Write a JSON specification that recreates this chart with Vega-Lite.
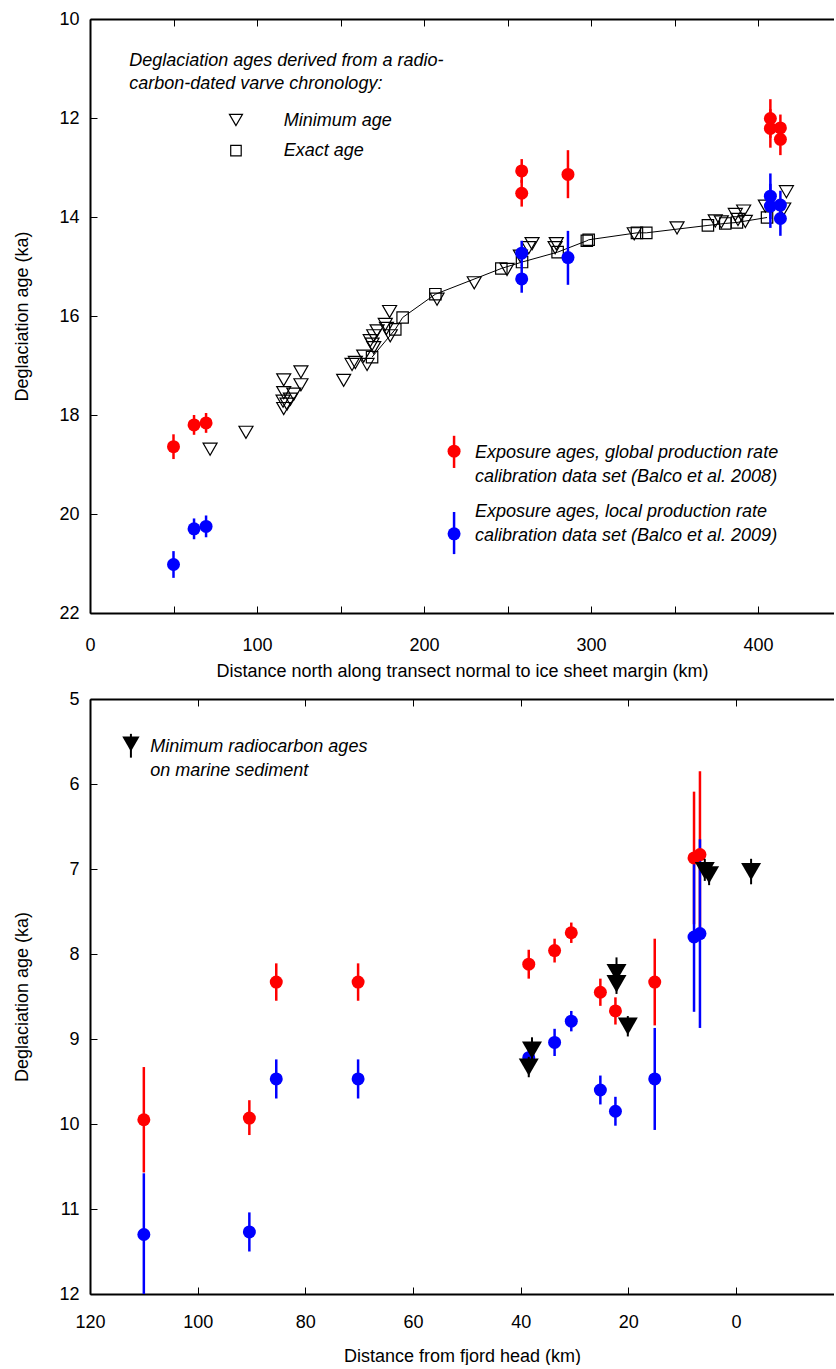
{
  "$schema": "https://vega.github.io/schema/vega-lite/v6.json",
  "padding": {"left": 13, "top": 10, "right": 0, "bottom": 0},
  "spacing": 10,
  "config": {
    "font": "Liberation Sans",
    "view": {"stroke": null},
    "axis": {
      "labelFont": "Liberation Sans", "labelFontSize": 18, "labelColor": "#000", "labelFlush": false,
      "titleFont": "Liberation Sans", "titleFontSize": 18, "titleFontWeight": "normal", "titleColor": "#000",
      "domainColor": "#000", "domainWidth": 2, "tickColor": "#000", "tickWidth": 1, "tickSize": -7,
      "grid": false
    }
  },
  "datasets": {
    "topExact": [
      {"km": 168.9, "age": 16.83}, {"km": 182.8, "age": 16.27}, {"km": 187.2, "age": 16.03},
      {"km": 206.8, "age": 15.56}, {"km": 246.3, "age": 15.04}, {"km": 258.7, "age": 14.91},
      {"km": 280.0, "age": 14.71}, {"km": 297.5, "age": 14.48}, {"km": 298.6, "age": 14.46},
      {"km": 327.5, "age": 14.32}, {"km": 333.1, "age": 14.32}, {"km": 370.0, "age": 14.17},
      {"km": 380.4, "age": 14.13}, {"km": 387.4, "age": 14.11}, {"km": 405.4, "age": 14.01}
    ],
    "topMin": [
      {"km": 71.9, "age": 18.69}, {"km": 93.4, "age": 18.35}, {"km": 116.0, "age": 17.29},
      {"km": 126.3, "age": 17.13}, {"km": 116.0, "age": 17.55}, {"km": 126.3, "age": 17.39},
      {"km": 115.6, "age": 17.72}, {"km": 122.0, "age": 17.58}, {"km": 116.0, "age": 17.87},
      {"km": 120.0, "age": 17.68}, {"km": 118.0, "age": 17.78}, {"km": 151.9, "age": 17.30},
      {"km": 156.9, "age": 16.98}, {"km": 158.9, "age": 16.94}, {"km": 163.9, "age": 16.81},
      {"km": 165.9, "age": 16.98}, {"km": 167.8, "age": 16.50}, {"km": 168.9, "age": 16.57},
      {"km": 169.9, "age": 16.64}, {"km": 169.9, "age": 16.40}, {"km": 171.9, "age": 16.30},
      {"km": 176.8, "age": 16.17}, {"km": 179.4, "age": 15.91}, {"km": 179.8, "age": 16.40},
      {"km": 177.5, "age": 16.25}, {"km": 207.8, "age": 15.66}, {"km": 230.1, "age": 15.33},
      {"km": 249.7, "age": 15.06}, {"km": 257.7, "age": 14.79}, {"km": 262.7, "age": 14.62},
      {"km": 264.7, "age": 14.54}, {"km": 279.2, "age": 14.54}, {"km": 278.5, "age": 14.62},
      {"km": 325.9, "age": 14.34}, {"km": 351.5, "age": 14.22}, {"km": 374.4, "age": 14.08},
      {"km": 378.0, "age": 14.10}, {"km": 386.4, "age": 13.95}, {"km": 391.4, "age": 13.88},
      {"km": 392.4, "age": 14.09}, {"km": 388.0, "age": 14.05}, {"km": 404.4, "age": 13.78},
      {"km": 415.4, "age": 13.84}, {"km": 417.0, "age": 13.49}
    ],
    "topExp": [
      {"km": 50.0, "age": 18.64, "lo": 18.39, "hi": 18.89, "set": "global"},
      {"km": 62.3, "age": 18.20, "lo": 18.0, "hi": 18.4, "set": "global"},
      {"km": 69.5, "age": 18.16, "lo": 17.96, "hi": 18.36, "set": "global"},
      {"km": 258.5, "age": 13.07, "lo": 12.83, "hi": 13.31, "set": "global"},
      {"km": 258.5, "age": 13.52, "lo": 13.25, "hi": 13.79, "set": "global"},
      {"km": 286.2, "age": 13.14, "lo": 12.65, "hi": 13.62, "set": "global"},
      {"km": 407.4, "age": 12.01, "lo": 11.62, "hi": 12.4, "set": "global"},
      {"km": 407.4, "age": 12.21, "lo": 11.82, "hi": 12.6, "set": "global"},
      {"km": 413.4, "age": 12.20, "lo": 11.93, "hi": 12.47, "set": "global"},
      {"km": 413.4, "age": 12.43, "lo": 12.11, "hi": 12.75, "set": "global"},
      {"km": 50.0, "age": 21.02, "lo": 20.75, "hi": 21.29, "set": "local"},
      {"km": 62.3, "age": 20.30, "lo": 20.09, "hi": 20.51, "set": "local"},
      {"km": 69.5, "age": 20.25, "lo": 20.03, "hi": 20.47, "set": "local"},
      {"km": 258.5, "age": 14.73, "lo": 14.48, "hi": 14.98, "set": "local"},
      {"km": 258.5, "age": 15.25, "lo": 14.97, "hi": 15.53, "set": "local"},
      {"km": 286.2, "age": 14.82, "lo": 14.28, "hi": 15.37, "set": "local"},
      {"km": 407.4, "age": 13.58, "lo": 13.12, "hi": 14.04, "set": "local"},
      {"km": 407.4, "age": 13.78, "lo": 13.33, "hi": 14.22, "set": "local"},
      {"km": 413.4, "age": 13.76, "lo": 13.47, "hi": 14.06, "set": "local"},
      {"km": 413.4, "age": 14.03, "lo": 13.73, "hi": 14.38, "set": "local"}
    ],
    "topLegExp": [
      {"km": 218.0, "age": 18.73, "lo": 18.42, "hi": 19.07, "set": "global"},
      {"km": 218.0, "age": 20.40, "lo": 19.96, "hi": 20.81, "set": "local"}
    ],
    "topLegMin": [{"km": 87.4, "age": 12.04}],
    "topLegExact": [{"km": 87.4, "age": 12.66}],
    "topText": [
      {"km": 23.5, "age": 10.85, "label": "Deglaciation ages derived from a radio-"},
      {"km": 23.5, "age": 11.32, "label": "carbon-dated varve chronology:"},
      {"km": 116.0, "age": 12.06, "label": "Minimum age"},
      {"km": 116.0, "age": 12.66, "label": "Exact age"},
      {"km": 230.5, "age": 18.77, "label": "Exposure ages, global production rate"},
      {"km": 230.5, "age": 19.25, "label": "calibration data set (Balco et al. 2008)"},
      {"km": 230.5, "age": 19.96, "label": "Exposure ages, local production rate"},
      {"km": 230.5, "age": 20.44, "label": "calibration data set (Balco et al. 2009)"}
    ],
    "botExp": [
      {"km": 110.0, "age": 9.95, "lo": 9.33, "hi": 10.57, "set": "global"},
      {"km": 90.4, "age": 9.93, "lo": 9.72, "hi": 10.13, "set": "global"},
      {"km": 85.4, "age": 8.33, "lo": 8.11, "hi": 8.55, "set": "global"},
      {"km": 70.2, "age": 8.33, "lo": 8.11, "hi": 8.55, "set": "global"},
      {"km": 38.5, "age": 8.12, "lo": 7.95, "hi": 8.29, "set": "global"},
      {"km": 33.7, "age": 7.96, "lo": 7.82, "hi": 8.10, "set": "global"},
      {"km": 30.6, "age": 7.75, "lo": 7.63, "hi": 7.87, "set": "global"},
      {"km": 25.2, "age": 8.45, "lo": 8.29, "hi": 8.61, "set": "global"},
      {"km": 22.4, "age": 8.67, "lo": 8.51, "hi": 8.83, "set": "global"},
      {"km": 15.1, "age": 8.33, "lo": 7.82, "hi": 8.84, "set": "global"},
      {"km": 7.8, "age": 6.87, "lo": 6.09, "hi": 7.65, "set": "global"},
      {"km": 6.7, "age": 6.83, "lo": 5.85, "hi": 7.81, "set": "global"},
      {"km": 110.0, "age": 11.30, "lo": 10.58, "hi": 12.02, "set": "local"},
      {"km": 90.4, "age": 11.27, "lo": 11.04, "hi": 11.50, "set": "local"},
      {"km": 85.4, "age": 9.47, "lo": 9.24, "hi": 9.70, "set": "local"},
      {"km": 70.2, "age": 9.47, "lo": 9.24, "hi": 9.70, "set": "local"},
      {"km": 38.5, "age": 9.22, "lo": 9.07, "hi": 9.37, "set": "local"},
      {"km": 33.7, "age": 9.04, "lo": 8.88, "hi": 9.20, "set": "local"},
      {"km": 30.6, "age": 8.79, "lo": 8.67, "hi": 8.91, "set": "local"},
      {"km": 25.2, "age": 9.60, "lo": 9.43, "hi": 9.77, "set": "local"},
      {"km": 22.4, "age": 9.85, "lo": 9.68, "hi": 10.02, "set": "local"},
      {"km": 15.1, "age": 9.47, "lo": 8.87, "hi": 10.07, "set": "local"},
      {"km": 7.8, "age": 7.80, "lo": 6.92, "hi": 8.68, "set": "local"},
      {"km": 6.7, "age": 7.76, "lo": 6.65, "hi": 8.87, "set": "local"}
    ],
    "botRc": [
      {"km": -2.8, "age": 7.03, "lo": 6.88, "hi": 7.18},
      {"km": 5.8, "age": 7.02, "lo": 6.88, "hi": 7.14},
      {"km": 5.0, "age": 7.07, "lo": 6.95, "hi": 7.19},
      {"km": 22.2, "age": 8.22, "lo": 8.04, "hi": 8.36},
      {"km": 22.2, "age": 8.35, "lo": 8.23, "hi": 8.47},
      {"km": 20.1, "age": 8.85, "lo": 8.73, "hi": 8.97},
      {"km": 37.9, "age": 9.13, "lo": 8.98, "hi": 9.28},
      {"km": 38.5, "age": 9.33, "lo": 9.21, "hi": 9.45}
    ],
    "botLegRc": [{"km": 112.4, "age": 5.53, "lo": 5.41, "hi": 5.69}],
    "botText": [
      {"km": 108.8, "age": 5.57, "label": "Minimum radiocarbon ages"},
      {"km": 108.8, "age": 5.85, "label": "on marine sediment"}
    ]
  },
  "vconcat": [
    {
      "width": 744,
      "height": 594,
      "resolve": {"axis": {"x": "independent"}},
      "layer": [
        {
          "data": {"name": "topExact"},
          "mark": {"type": "line", "color": "#000", "strokeWidth": 1},
          "encoding": {
            "x": {"field": "km", "type": "quantitative",
                  "scale": {"domain": [0, 445.5], "nice": false, "zero": false},
                  "axis": {"orient": "bottom", "values": [0, 50, 100, 150, 200, 250, 300, 350, 400],
                           "labelExpr": "datum.value % 100 == 0 ? datum.label : ''",
                           "title": "Distance north along transect normal to ice sheet margin (km)",
                           "labelPadding": 30, "titlePadding": 8}},
            "y": {"field": "age", "type": "quantitative",
                  "scale": {"domain": [10, 22], "reverse": true, "nice": false, "zero": false},
                  "axis": {"values": [10, 12, 14, 16, 18, 20, 22], "format": "d", "title": "Deglaciation age (ka)",
                           "labelPadding": 18, "titlePadding": 27}}
          }
        },
        {
          "data": {"name": "topExact"},
          "mark": {"type": "point", "shape": "square", "filled": false, "stroke": "#000", "strokeWidth": 1.2, "size": 130, "opacity": 1},
          "encoding": {
            "x": {"field": "km", "type": "quantitative",
                  "axis": {"orient": "top", "values": [0, 50, 100, 150, 200, 250, 300, 350, 400], "labels": false, "title": null}},
            "y": {"field": "age", "type": "quantitative"}
          }
        },
        {
          "data": {"name": "topMin"},
          "mark": {"type": "point", "shape": "triangle-down", "filled": false, "stroke": "#000", "strokeWidth": 1.2, "size": 196, "opacity": 1},
          "encoding": {
            "x": {"field": "km", "type": "quantitative", "axis": null},
            "y": {"field": "age", "type": "quantitative"}
          }
        },
        {
          "data": {"name": "topLegMin"},
          "mark": {"type": "point", "shape": "triangle-down", "filled": false, "stroke": "#000", "strokeWidth": 1.2, "size": 170, "opacity": 1},
          "encoding": {
            "x": {"field": "km", "type": "quantitative", "axis": null},
            "y": {"field": "age", "type": "quantitative"}
          }
        },
        {
          "data": {"name": "topLegExact"},
          "mark": {"type": "point", "shape": "square", "filled": false, "stroke": "#000", "strokeWidth": 1.2, "size": 110, "opacity": 1},
          "encoding": {
            "x": {"field": "km", "type": "quantitative", "axis": null},
            "y": {"field": "age", "type": "quantitative"}
          }
        },
        {
          "data": {"name": "topExp"},
          "mark": {"type": "rule", "strokeWidth": 2.5},
          "encoding": {
            "x": {"field": "km", "type": "quantitative", "axis": null},
            "y": {"field": "lo", "type": "quantitative"},
            "y2": {"field": "hi"},
            "color": {"field": "set", "type": "nominal", "scale": {"domain": ["global", "local"], "range": ["#ff0000", "#0000ff"]}, "legend": null}
          }
        },
        {
          "data": {"name": "topExp"},
          "mark": {"type": "point", "shape": "circle", "filled": true, "size": 169, "opacity": 1},
          "encoding": {
            "x": {"field": "km", "type": "quantitative", "axis": null},
            "y": {"field": "age", "type": "quantitative"},
            "color": {"field": "set", "type": "nominal", "legend": null}
          }
        },
        {
          "data": {"name": "topLegExp"},
          "mark": {"type": "rule", "strokeWidth": 2.5},
          "encoding": {
            "x": {"field": "km", "type": "quantitative", "axis": null},
            "y": {"field": "lo", "type": "quantitative"},
            "y2": {"field": "hi"},
            "color": {"field": "set", "type": "nominal", "legend": null}
          }
        },
        {
          "data": {"name": "topLegExp"},
          "mark": {"type": "point", "shape": "circle", "filled": true, "size": 169, "opacity": 1},
          "encoding": {
            "x": {"field": "km", "type": "quantitative", "axis": null},
            "y": {"field": "age", "type": "quantitative"},
            "color": {"field": "set", "type": "nominal", "legend": null}
          }
        },
        {
          "data": {"name": "topText"},
          "mark": {"type": "text", "align": "left", "baseline": "middle", "fontSize": 18, "fontStyle": "italic", "font": "Liberation Sans", "color": "#000"},
          "encoding": {
            "x": {"field": "km", "type": "quantitative", "axis": null},
            "y": {"field": "age", "type": "quantitative"},
            "text": {"field": "label"}
          }
        }
      ]
    },
    {
      "width": 744,
      "height": 595,
      "resolve": {"axis": {"x": "independent"}},
      "layer": [
        {
          "data": {"name": "botExp"},
          "mark": {"type": "rule", "strokeWidth": 2.5, "clip": true},
          "encoding": {
            "x": {"field": "km", "type": "quantitative",
                  "scale": {"domain": [-18.2, 120], "reverse": true, "nice": false, "zero": false},
                  "axis": {"orient": "bottom", "values": [120, 100, 80, 60, 40, 20, 0],
                           "title": "Distance from fjord head (km)", "labelPadding": 26, "titlePadding": 16}},
            "y": {"field": "lo", "type": "quantitative",
                  "scale": {"domain": [5, 12], "reverse": true, "nice": false, "zero": false},
                  "axis": {"values": [5, 6, 7, 8, 9, 10, 11, 12], "format": "d", "title": "Deglaciation age (ka)",
                           "labelPadding": 18, "titlePadding": 27}},
            "y2": {"field": "hi"},
            "color": {"field": "set", "type": "nominal", "scale": {"domain": ["global", "local"], "range": ["#ff0000", "#0000ff"]}, "legend": null}
          }
        },
        {
          "data": {"name": "botExp"},
          "mark": {"type": "point", "shape": "circle", "filled": true, "size": 169, "opacity": 1},
          "encoding": {
            "x": {"field": "km", "type": "quantitative",
                  "axis": {"orient": "top", "values": [120, 100, 80, 60, 40, 20, 0], "labels": false, "title": null}},
            "y": {"field": "age", "type": "quantitative"},
            "color": {"field": "set", "type": "nominal", "legend": null}
          }
        },
        {
          "data": {"name": "botRc"},
          "mark": {"type": "rule", "strokeWidth": 2, "color": "#000"},
          "encoding": {
            "x": {"field": "km", "type": "quantitative", "axis": null},
            "y": {"field": "lo", "type": "quantitative"},
            "y2": {"field": "hi"}
          }
        },
        {
          "data": {"name": "botRc"},
          "mark": {"type": "point", "shape": "triangle-down", "filled": true, "color": "#000", "size": 400, "opacity": 1},
          "encoding": {
            "x": {"field": "km", "type": "quantitative", "axis": null},
            "y": {"field": "age", "type": "quantitative"}
          }
        },
        {
          "data": {"name": "botLegRc"},
          "mark": {"type": "rule", "strokeWidth": 2, "color": "#000"},
          "encoding": {
            "x": {"field": "km", "type": "quantitative", "axis": null},
            "y": {"field": "lo", "type": "quantitative"},
            "y2": {"field": "hi"}
          }
        },
        {
          "data": {"name": "botLegRc"},
          "mark": {"type": "point", "shape": "triangle-down", "filled": true, "color": "#000", "size": 300, "opacity": 1},
          "encoding": {
            "x": {"field": "km", "type": "quantitative", "axis": null},
            "y": {"field": "age", "type": "quantitative"}
          }
        },
        {
          "data": {"name": "botText"},
          "mark": {"type": "text", "align": "left", "baseline": "middle", "fontSize": 18, "fontStyle": "italic", "font": "Liberation Sans", "color": "#000"},
          "encoding": {
            "x": {"field": "km", "type": "quantitative", "axis": null},
            "y": {"field": "age", "type": "quantitative"},
            "text": {"field": "label"}
          }
        }
      ]
    }
  ]
}
